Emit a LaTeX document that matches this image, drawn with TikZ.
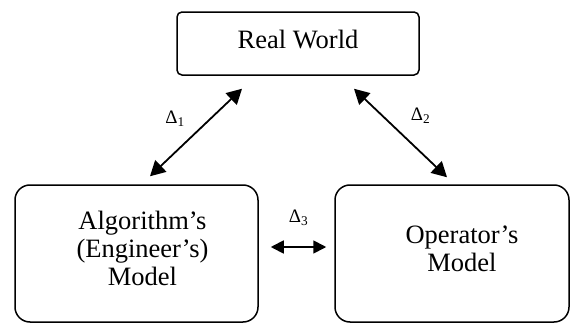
\documentclass[tikz,border=0pt]{standalone}
\usepackage{fontspec}
\setmainfont{Liberation Serif}
\usetikzlibrary{arrows.meta}

\begin{document}
\begin{tikzpicture}[x=1pt, y=1pt, font=\fontsize{26.5}{28}\selectfont,
  box/.style={draw=black, line width=1.5pt, rounded corners=#1, inner sep=0pt},
  box/.default=15pt, txt/.style={align=center, inner sep=0pt},
  lbl/.style={font=\fontsize{19}{21}\selectfont, inner sep=0pt},
  dbl/.style={{Triangle[length=15pt,width=16pt]}-{Triangle[length=15pt,width=16pt]}, line width=1.8pt},
  dblsmall/.style={{Triangle[length=13pt,width=13pt]}-{Triangle[length=13pt,width=13pt]}, line width=1.8pt}]
\useasboundingbox (0,0) rectangle (571,-324);
\node[box=5pt, minimum width=242pt, minimum height=63pt] (world) at (298,-43.5) {};
\node[box, minimum width=243pt, minimum height=137pt] (algo) at (136.5,-253.5) {};
\node[box, minimum width=234pt, minimum height=137pt] (oper) at (452,-253.5) {};
\node[txt] (worldtext) at ([yshift=4pt]world.center) {Real World};
\node[txt] (algotext) at ([shift={(6,5)}]algo.center) {Algorithm’s\\(Engineer’s)\\Model};
\node[txt] (opertext) at ([shift={(10,5)}]oper.center) {Operator’s\\Model};
\draw[dbl] ([shift={(13.5,8)}]algo.north) -- node[lbl, xshift=-21pt, yshift=14pt]{Δ\textsubscript{1}} ([shift={(-56,-13)}]world.south);
\draw[dbl] ([shift={(56,-13)}]world.south) -- node[lbl, xshift=20pt, yshift=17pt]{Δ\textsubscript{2}} ([shift={(-5,7)}]oper.north);
\draw[dblsmall] ([shift={(12,6.5)}]algo.east) -- node[lbl, yshift=29pt]{Δ\textsubscript{3}} ([shift={(-8,6.5)}]oper.west);
\end{tikzpicture}
\end{document}
